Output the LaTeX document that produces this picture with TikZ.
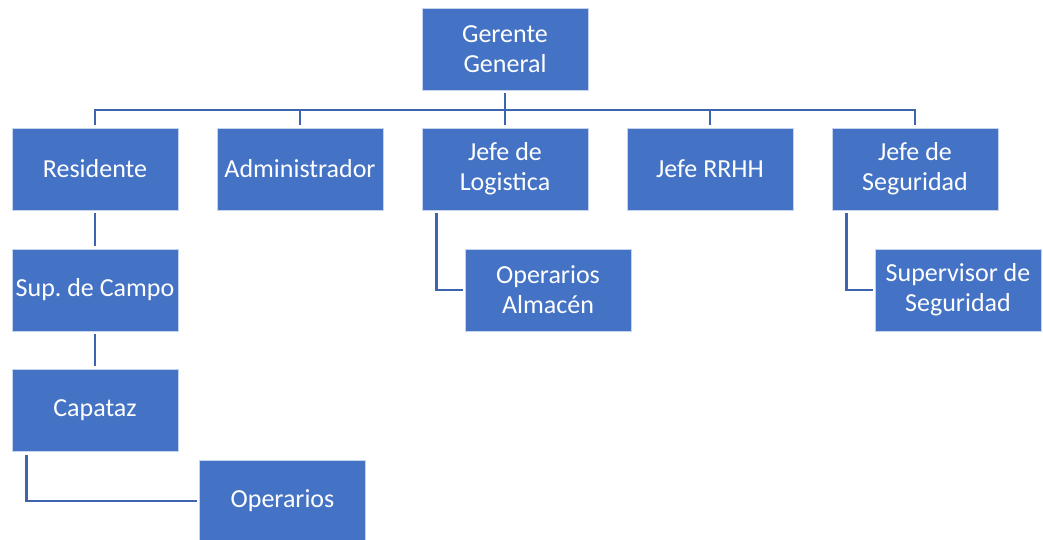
\documentclass[tikz,border=0pt]{standalone}
\usepackage{fontspec}
\setmainfont{Carlito}
\definecolor{boxblue}{HTML}{4472C4}
\definecolor{lineblue}{HTML}{3D64AD}
\definecolor{boxedge}{HTML}{C5D3EE}
\begin{document}
\begin{tikzpicture}[x=1pt,y=-1pt,
  box/.style={draw=boxedge, line width=0.8pt, fill=boxblue, text=white,
    minimum width=166pt, minimum height=82pt, inner sep=0pt, align=center,
    font=\fontsize{26}{30}\selectfont},
  conn/.style={draw=lineblue, line width=2.5pt}]
\useasboundingbox (0,0) rectangle (1043,540);
\node[box] (gg) at (505,49) {Gerente\\General};
\node[box] (res) at (95,169) {Residente};
\node[box] (adm) at (300,169) {Administrador};
\node[box] (log) at (505,169) {Jefe de\\Logistica};
\node[box] (rrhh) at (710,169) {Jefe RRHH};
\node[box] (seg) at (915,169) {Jefe de\\Seguridad};
\node[box] (sup) at (95,290) {Sup.~de Campo};
\node[box] (cap) at (95,410.5) {Capataz};
\node[box] (ope) at (282.5,501) {Operarios};
\node[box] (alm) at (548,290) {Operarios\\Almacén};
\node[box] (sups) at (958,290) {Supervisor de\\Seguridad};
\coordinate (bus) at (505,110);
\draw[conn, shorten <=3pt] (gg.south) -- (gg.south |- bus);
\draw[conn, shorten <=3pt, shorten >=3pt] (res.north) -- (res.north |- bus) -- (seg.north |- bus) -- (seg.north);
\foreach \n in {adm,log,rrhh}{
  \draw[conn, shorten >=3pt] (\n.north |- bus) -- (\n.north);
}
\draw[conn, shorten <=3pt, shorten >=3pt] (res.south) -- (sup.north);
\draw[conn, shorten <=3pt, shorten >=3pt] (sup.south) -- (cap.north);
\draw[conn, shorten <=3pt, shorten >=2pt] ([xshift=15pt]cap.south west) |- (ope.west);
\draw[conn, shorten <=3pt, shorten >=2pt] ([xshift=15pt]log.south west) |- (alm.west);
\draw[conn, shorten <=3pt, shorten >=2pt] ([xshift=15pt]seg.south west) |- (sups.west);
\end{tikzpicture}
\end{document}
